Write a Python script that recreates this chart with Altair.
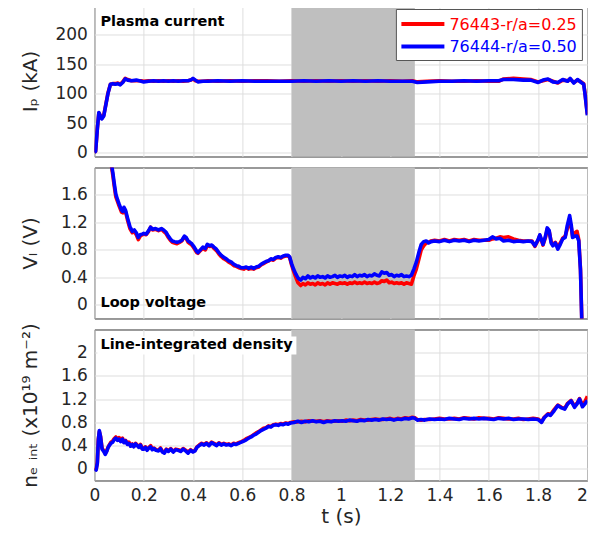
import altair as alt
import pandas as pd

SERIES = ["76443-r/a=0.25", "76444-r/a=0.50"]
COLORS = ["#ff0000", "#0000ff"]
SHADE = [0.8, 1.3]
X_TICKS = [0, 0.2, 0.4, 0.6, 0.8, 1.0, 1.2, 1.4, 1.6, 1.8, 2.0]
PANEL_LABELS = ["Plasma current", "Loop voltage", "Line-integrated density"]
Y_TITLES = ["I\u209a (kA)", "V\u2097 (V)", "n\u2091 \u1d62\u2099\u209c (x10\u00b9\u2079 m\u207b\u00b2)"]
Y_DOMAINS = [[-7, 250], [-0.2, 2.0], [-0.2, 2.4]]
Y_TICKS = [[0, 50, 100, 150, 200], [0, 0.4, 0.8, 1.2, 1.6], [0, 0.4, 0.8, 1.2, 1.6, 2.0]]

# Plasma current (kA): rows of (t, shot 76444 blue, shot 76443 red)
ip_rows = [
    (0, 0, 0), (0.005, 2, 2), (0.012, 40, 41), (0.018, 68, 67), (0.024, 62, 63),
    (0.03, 57, 58), (0.038, 62, 63), (0.046, 80, 81), (0.055, 100, 101), (0.065, 116, 116),
    (0.075, 117, 117), (0.085, 116, 117), (0.095, 117, 118), (0.105, 115, 116), (0.115, 119, 120),
    (0.125, 125, 126), (0.135, 123, 124), (0.15, 122, 122), (0.17, 123, 122), (0.19, 121, 122),
    (0.2, 120, 121), (0.22, 121, 122), (0.24, 122, 121), (0.26, 121, 122), (0.28, 122, 121),
    (0.3, 121, 122), (0.32, 122, 121), (0.34, 121, 122), (0.36, 122, 121), (0.38, 122, 122),
    (0.39, 123, 123), (0.4, 126, 125), (0.41, 123, 122), (0.42, 120, 121), (0.44, 121, 121),
    (0.46, 121, 122), (0.5, 122, 121), (0.55, 121, 122), (0.6, 122, 121), (0.65, 121, 122),
    (0.7, 121, 122), (0.75, 121, 121), (0.8, 121, 122), (0.85, 122, 121), (0.9, 121, 122),
    (0.95, 122, 121), (1.0, 121, 122), (1.05, 122, 121), (1.1, 121, 122), (1.15, 122, 121),
    (1.2, 121, 122), (1.25, 121, 121), (1.29, 121, 122), (1.31, 119, 120), (1.35, 120, 121),
    (1.4, 121, 122), (1.45, 121, 121), (1.5, 122, 121), (1.55, 121, 122), (1.6, 122, 121),
    (1.64, 122, 121), (1.66, 124, 125), (1.7, 124, 126), (1.74, 123, 125), (1.77, 123, 124),
    (1.8, 119, 120), (1.82, 123, 122), (1.84, 125, 124), (1.86, 120, 121), (1.88, 119, 118),
    (1.9, 124, 123), (1.92, 121, 122), (1.93, 126, 125), (1.945, 118, 119), (1.96, 124, 123),
    (1.975, 119, 120), (1.985, 116, 117), (1.99, 100, 102), (2.0, 63, 65),
]

# Loop voltage (V)
vl_rows = [
    (0.065, 2.15, 2.12), (0.075, 1.92, 1.88), (0.08, 1.78, 1.74), (0.087, 1.61, 1.57),
    (0.095, 1.52, 1.49), (0.1, 1.47, 1.44), (0.11, 1.38, 1.35), (0.115, 1.36, 1.34),
    (0.12, 1.42, 1.40), (0.126, 1.38, 1.36), (0.134, 1.27, 1.24), (0.144, 1.14, 1.11),
    (0.154, 1.07, 1.05), (0.162, 1.09, 1.07), (0.17, 1.05, 1.02), (0.178, 0.98, 0.95),
    (0.186, 1.02, 1.00), (0.194, 1.03, 1.02), (0.2, 1.04, 1.03), (0.21, 1.03, 1.02),
    (0.22, 1.08, 1.07), (0.228, 1.13, 1.13), (0.236, 1.10, 1.09), (0.248, 1.11, 1.10),
    (0.26, 1.09, 1.08), (0.272, 1.11, 1.10), (0.281, 1.09, 1.07), (0.29, 1.06, 1.04),
    (0.3, 1.00, 0.98), (0.308, 0.96, 0.94), (0.316, 0.93, 0.91), (0.325, 0.92, 0.90),
    (0.335, 0.91, 0.89), (0.345, 0.92, 0.91), (0.355, 0.94, 0.93), (0.365, 1.00, 0.99),
    (0.372, 0.98, 0.97), (0.38, 0.93, 0.91), (0.388, 0.91, 0.89), (0.395, 0.89, 0.87),
    (0.405, 0.84, 0.82), (0.415, 0.78, 0.76), (0.42, 0.76, 0.75), (0.43, 0.80, 0.79),
    (0.44, 0.84, 0.82), (0.45, 0.82, 0.80), (0.458, 0.88, 0.86), (0.468, 0.86, 0.85),
    (0.476, 0.87, 0.86), (0.485, 0.84, 0.82), (0.495, 0.81, 0.79), (0.505, 0.76, 0.74),
    (0.515, 0.72, 0.70), (0.525, 0.69, 0.67), (0.535, 0.67, 0.65), (0.545, 0.64, 0.62),
    (0.556, 0.62, 0.60), (0.566, 0.59, 0.57), (0.576, 0.57, 0.56), (0.586, 0.56, 0.54),
    (0.596, 0.54, 0.53), (0.606, 0.54, 0.52), (0.616, 0.55, 0.54), (0.626, 0.53, 0.52),
    (0.636, 0.55, 0.53), (0.646, 0.53, 0.52), (0.656, 0.55, 0.54), (0.666, 0.56, 0.55),
    (0.676, 0.59, 0.58), (0.686, 0.61, 0.60), (0.696, 0.63, 0.62), (0.706, 0.64, 0.64),
    (0.716, 0.67, 0.66), (0.726, 0.66, 0.65), (0.736, 0.69, 0.68), (0.746, 0.70, 0.69),
    (0.756, 0.69, 0.68), (0.766, 0.71, 0.70), (0.776, 0.72, 0.71), (0.786, 0.72, 0.71),
    (0.792, 0.70, 0.69), (0.8, 0.60, 0.58), (0.808, 0.52, 0.49), (0.817, 0.45, 0.40),
    (0.826, 0.39, 0.32), (0.837, 0.36, 0.28), (0.846, 0.40, 0.31), (0.856, 0.38, 0.29),
    (0.866, 0.42, 0.32), (0.876, 0.39, 0.30), (0.886, 0.41, 0.31), (0.896, 0.39, 0.29),
    (0.906, 0.42, 0.32), (0.916, 0.40, 0.30), (0.926, 0.41, 0.31), (0.936, 0.39, 0.29),
    (0.946, 0.42, 0.32), (0.956, 0.40, 0.30), (0.966, 0.41, 0.32), (0.976, 0.43, 0.31),
    (0.986, 0.40, 0.30), (0.996, 0.42, 0.32), (1.006, 0.41, 0.31), (1.016, 0.43, 0.32),
    (1.026, 0.40, 0.30), (1.036, 0.42, 0.32), (1.046, 0.41, 0.31), (1.056, 0.44, 0.33),
    (1.066, 0.41, 0.31), (1.076, 0.43, 0.32), (1.086, 0.42, 0.31), (1.096, 0.44, 0.33),
    (1.106, 0.41, 0.31), (1.116, 0.43, 0.32), (1.126, 0.42, 0.31), (1.136, 0.45, 0.33),
    (1.146, 0.43, 0.31), (1.156, 0.42, 0.32), (1.166, 0.48, 0.35), (1.176, 0.46, 0.34),
    (1.186, 0.47, 0.36), (1.196, 0.43, 0.32), (1.206, 0.44, 0.33), (1.216, 0.41, 0.31),
    (1.226, 0.43, 0.32), (1.236, 0.42, 0.31), (1.246, 0.44, 0.32), (1.256, 0.41, 0.30),
    (1.266, 0.42, 0.32), (1.276, 0.41, 0.31), (1.286, 0.43, 0.30), (1.296, 0.52, 0.42),
    (1.306, 0.62, 0.52), (1.316, 0.76, 0.66), (1.326, 0.88, 0.80), (1.336, 0.92, 0.86),
    (1.346, 0.93, 0.90), (1.356, 0.90, 0.91), (1.366, 0.92, 0.93), (1.38, 0.93, 0.94),
    (1.4, 0.92, 0.93), (1.42, 0.94, 0.95), (1.44, 0.92, 0.93), (1.46, 0.94, 0.95),
    (1.48, 0.93, 0.94), (1.5, 0.94, 0.95), (1.52, 0.92, 0.93), (1.54, 0.94, 0.95),
    (1.56, 0.93, 0.94), (1.58, 0.94, 0.94), (1.6, 0.95, 0.94), (1.615, 0.99, 0.96),
    (1.63, 0.96, 0.97), (1.645, 0.97, 0.99), (1.66, 0.93, 0.98), (1.68, 0.94, 0.99),
    (1.7, 0.92, 0.96), (1.72, 0.93, 0.94), (1.74, 0.92, 0.93), (1.76, 0.93, 0.93),
    (1.775, 0.92, 0.93), (1.787, 0.86, 0.85), (1.8, 0.95, 0.94), (1.807, 1.02, 1.01),
    (1.82, 0.88, 0.87), (1.83, 1.00, 0.98), (1.837, 1.12, 1.10), (1.845, 1.08, 1.07),
    (1.853, 0.90, 0.92), (1.86, 0.86, 0.88), (1.87, 0.90, 0.91), (1.88, 0.81, 0.84),
    (1.89, 0.88, 0.90), (1.9, 0.96, 0.97), (1.91, 0.98, 1.00), (1.918, 1.15, 1.10),
    (1.928, 1.30, 1.22), (1.935, 1.15, 1.12), (1.94, 0.98, 1.00), (1.95, 1.00, 1.05),
    (1.958, 1.00, 1.07), (1.965, 0.93, 0.95), (1.972, 0.50, 0.52), (1.977, -0.20, -0.18),
    (1.982, -0.80, -0.80),
]

# Line-integrated density (x10^19 m^-2)
ne_rows = [
    (0, 0.00, 0.02), (0.007, -0.02, -0.01), (0.012, 0.10, 0.12), (0.016, 0.50, 0.52),
    (0.02, 0.66, 0.64), (0.025, 0.55, 0.56), (0.031, 0.34, 0.36), (0.038, 0.30, 0.31),
    (0.044, 0.25, 0.27), (0.05, 0.30, 0.31), (0.055, 0.36, 0.37), (0.06, 0.40, 0.41),
    (0.067, 0.44, 0.46), (0.074, 0.46, 0.48), (0.08, 0.50, 0.52), (0.087, 0.53, 0.55),
    (0.094, 0.49, 0.50), (0.1, 0.51, 0.54), (0.107, 0.47, 0.49), (0.114, 0.51, 0.53),
    (0.12, 0.45, 0.46), (0.127, 0.48, 0.49), (0.134, 0.42, 0.43), (0.14, 0.44, 0.46),
    (0.147, 0.39, 0.40), (0.154, 0.42, 0.43), (0.16, 0.38, 0.39), (0.167, 0.43, 0.44),
    (0.174, 0.40, 0.41), (0.18, 0.37, 0.38), (0.187, 0.41, 0.42), (0.194, 0.34, 0.35),
    (0.2, 0.34, 0.36), (0.207, 0.37, 0.38), (0.214, 0.32, 0.33), (0.221, 0.36, 0.37),
    (0.228, 0.38, 0.40), (0.235, 0.33, 0.34), (0.242, 0.35, 0.36), (0.25, 0.32, 0.33),
    (0.26, 0.31, 0.32), (0.268, 0.35, 0.36), (0.276, 0.29, 0.30), (0.284, 0.27, 0.29),
    (0.292, 0.33, 0.34), (0.3, 0.30, 0.31), (0.31, 0.34, 0.35), (0.32, 0.29, 0.30),
    (0.33, 0.33, 0.34), (0.34, 0.32, 0.33), (0.35, 0.30, 0.31), (0.36, 0.34, 0.35),
    (0.37, 0.31, 0.32), (0.38, 0.27, 0.29), (0.39, 0.32, 0.33), (0.4, 0.29, 0.30),
    (0.408, 0.31, 0.32), (0.416, 0.37, 0.38), (0.425, 0.40, 0.41), (0.435, 0.43, 0.44),
    (0.445, 0.41, 0.42), (0.455, 0.44, 0.45), (0.465, 0.40, 0.41), (0.475, 0.45, 0.46),
    (0.485, 0.43, 0.44), (0.495, 0.40, 0.41), (0.505, 0.44, 0.45), (0.515, 0.41, 0.42),
    (0.525, 0.43, 0.44), (0.535, 0.41, 0.42), (0.545, 0.42, 0.43), (0.555, 0.40, 0.41),
    (0.565, 0.43, 0.44), (0.575, 0.42, 0.43), (0.585, 0.44, 0.45), (0.596, 0.46, 0.47),
    (0.606, 0.48, 0.49), (0.616, 0.50, 0.52), (0.626, 0.53, 0.54), (0.636, 0.55, 0.56),
    (0.646, 0.58, 0.59), (0.656, 0.60, 0.62), (0.666, 0.63, 0.64), (0.676, 0.66, 0.67),
    (0.686, 0.68, 0.70), (0.696, 0.70, 0.71), (0.706, 0.73, 0.74), (0.716, 0.72, 0.73),
    (0.726, 0.75, 0.76), (0.736, 0.76, 0.77), (0.746, 0.75, 0.76), (0.756, 0.77, 0.78),
    (0.766, 0.76, 0.77), (0.776, 0.78, 0.79), (0.786, 0.77, 0.78), (0.796, 0.79, 0.80),
    (0.81, 0.80, 0.81), (0.825, 0.82, 0.81), (0.84, 0.80, 0.82), (0.855, 0.82, 0.81),
    (0.87, 0.81, 0.83), (0.885, 0.83, 0.82), (0.9, 0.81, 0.82), (0.915, 0.82, 0.83),
    (0.93, 0.80, 0.81), (0.945, 0.82, 0.83), (0.96, 0.81, 0.82), (0.975, 0.83, 0.82),
    (0.99, 0.82, 0.83), (1.005, 0.83, 0.82), (1.02, 0.82, 0.84), (1.035, 0.84, 0.83),
    (1.05, 0.83, 0.84), (1.065, 0.82, 0.83), (1.08, 0.84, 0.85), (1.095, 0.83, 0.84),
    (1.11, 0.85, 0.84), (1.125, 0.84, 0.85), (1.14, 0.85, 0.86), (1.155, 0.84, 0.85),
    (1.17, 0.86, 0.85), (1.185, 0.85, 0.86), (1.2, 0.86, 0.87), (1.215, 0.84, 0.85),
    (1.23, 0.86, 0.87), (1.245, 0.85, 0.86), (1.26, 0.87, 0.88), (1.275, 0.86, 0.87),
    (1.29, 0.88, 0.89), (1.3, 0.87, 0.88), (1.31, 0.84, 0.85), (1.325, 0.85, 0.84),
    (1.34, 0.84, 0.85), (1.36, 0.86, 0.85), (1.38, 0.85, 0.86), (1.4, 0.86, 0.87),
    (1.42, 0.85, 0.86), (1.44, 0.87, 0.86), (1.46, 0.86, 0.87), (1.48, 0.85, 0.86),
    (1.5, 0.87, 0.88), (1.52, 0.86, 0.87), (1.54, 0.87, 0.86), (1.56, 0.86, 0.88),
    (1.58, 0.87, 0.87), (1.6, 0.86, 0.87), (1.62, 0.85, 0.86), (1.64, 0.87, 0.88),
    (1.66, 0.86, 0.87), (1.68, 0.87, 0.86), (1.7, 0.85, 0.86), (1.72, 0.86, 0.87),
    (1.74, 0.86, 0.85), (1.76, 0.85, 0.86), (1.78, 0.86, 0.87), (1.8, 0.85, 0.86),
    (1.814, 0.80, 0.81), (1.825, 0.88, 0.89), (1.84, 0.94, 0.95), (1.85, 0.92, 0.93),
    (1.865, 1.00, 1.02), (1.88, 1.09, 1.10), (1.895, 1.05, 1.06), (1.908, 1.03, 1.04),
    (1.92, 1.12, 1.13), (1.934, 1.17, 1.18), (1.948, 1.06, 1.08), (1.958, 1.12, 1.13),
    (1.968, 1.20, 1.21), (1.98, 1.07, 1.10), (1.99, 1.12, 1.16), (2.0, 1.18, 1.25),
]

FONT = "DejaVu Sans"
W, H = 493, 151


def to_long(rows):
    recs = []
    for t, b, r in rows:
        recs.append({"t": t, "v": r, "s": SERIES[0]})
        recs.append({"t": t, "v": b, "s": SERIES[1]})
    return pd.DataFrame(recs)


xscale = alt.Scale(domain=[0, 2], nice=False)


def legend_layers():
    one = pd.DataFrame({"k": [0]})
    bx = W - 191
    box = alt.Chart(one).mark_rect(fill="white", stroke="#555555", strokeWidth=1).encode(
        x=alt.value(bx), x2=alt.value(bx + 186), y=alt.value(4), y2=alt.value(55))
    out = [box]
    for i, (name, col) in enumerate(zip(SERIES, COLORS)):
        yy = 18.5 + 22.5 * i
        d = pd.DataFrame({"s": [name]})
        out.append(alt.Chart(d).mark_rule(strokeWidth=4, color=col).encode(
            x=alt.value(bx + 5), x2=alt.value(bx + 48), y=alt.value(yy)))
        out.append(alt.Chart(d).mark_text(align="left", baseline="middle", fontSize=16,
                                          font=FONT, color=col).encode(
            x=alt.value(bx + 53), y=alt.value(yy + 0.5), text="s:N"))
    return out


def panel(rows, idx, label_y, show_x, legend):
    df = to_long(rows)
    if show_x:
        xaxis = alt.Axis(values=X_TICKS, format=".1~f", title="t (s)", grid=True, ticks=False,
                         domain=False, labelPadding=7, titlePadding=3, labelFlush=False,
                         labelAlign={"condition": {"test": "datum.value >= 2", "value": "right"},
                                     "value": "center"})
    else:
        xaxis = alt.Axis(values=X_TICKS, labels=False, title=None, grid=True, ticks=False,
                         domain=False)
    yaxis = alt.Axis(values=Y_TICKS[idx], format=".1~f", title=Y_TITLES[idx], grid=True,
                     ticks=False, domain=False, labelPadding=7, labelFlush=False,
                     titleX=-58, titleY=H / 2,
                     titleAngle=270, titleAlign="center", titleBaseline="alphabetic")
    shade_df = pd.DataFrame({"a": [SHADE[0]], "b": [SHADE[1]]})
    rect = alt.Chart(shade_df).mark_rect(color="#bfbfbf").encode(
        x=alt.X("a:Q", scale=xscale, axis=xaxis), x2="b:Q")
    lines = alt.Chart(df).mark_line(strokeWidth=3.6, clip=True, strokeJoin="round").encode(
        x=alt.X("t:Q", scale=xscale, axis=xaxis),
        y=alt.Y("v:Q", scale=alt.Scale(domain=Y_DOMAINS[idx], nice=False, zero=False), axis=yaxis),
        color=alt.Color("s:N", scale=alt.Scale(domain=SERIES, range=COLORS), legend=None),
    )
    lab_df = pd.DataFrame({"label": [PANEL_LABELS[idx]]})
    layers = [rect, lines]
    if idx == 2:
        bg = alt.Chart(lab_df).mark_rect(color="white").encode(
            x=alt.value(3), x2=alt.value(202), y=alt.value(7), y2=alt.value(25))
        layers.append(bg)
    txt = alt.Chart(lab_df).mark_text(align="left", baseline="middle", fontWeight="bold",
                                      fontSize=14.5, font=FONT, color="black").encode(
        x=alt.value(6), y=alt.value(label_y), text="label:N")
    layers.append(txt)
    if legend:
        layers.extend(legend_layers())
    return alt.layer(*layers).properties(width=W, height=H)


p1 = panel(ip_rows, 0, 16, False, True)
p2 = panel(vl_rows, 1, H - 15, False, False)
p3 = panel(ne_rows, 2, 16, True, False)

chart = alt.vconcat(p1, p2, p3, spacing=11, bounds="flush").properties(
    padding={"left": 11.4, "top": -3.5, "right": 0, "bottom": 0}
).configure_axis(
    labelFont=FONT, titleFont=FONT, labelFontSize=17, titleFontSize=20,
    labelColor="#262626", titleColor="#262626", gridColor="#dedede",
    titleFontWeight="normal"
).configure_view(stroke="#333333", strokeWidth=1)

chart.save("out.html", embed_options={"renderer": "svg", "actions": False})
